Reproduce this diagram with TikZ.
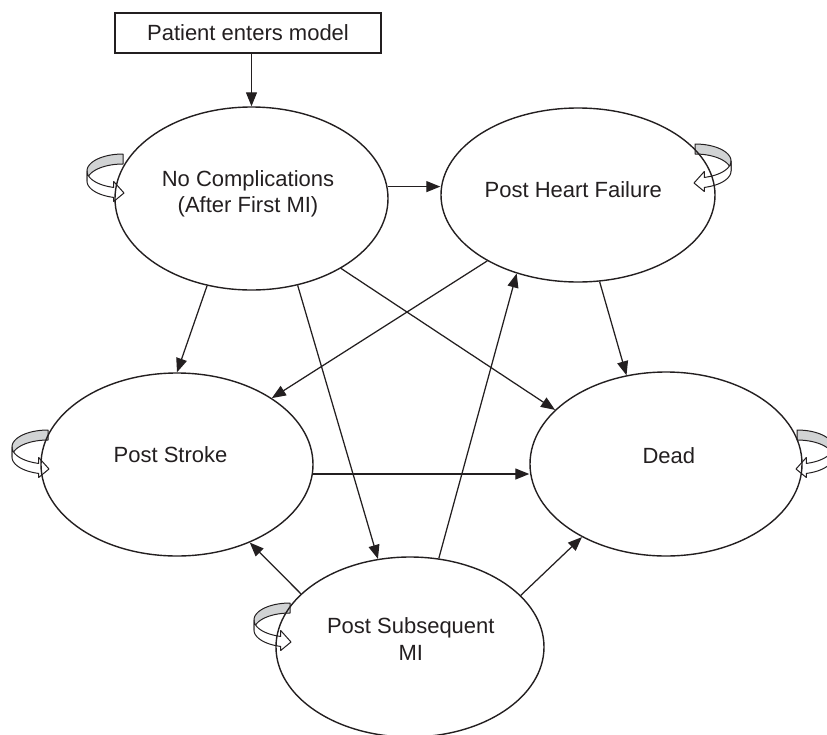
\documentclass[tikz,border=0pt]{standalone}
\usepackage{fontspec}
\setmainfont{Liberation Sans}
\usetikzlibrary{shapes.geometric,arrows.meta}
\definecolor{ink}{HTML}{231F20}
\definecolor{ribbon}{HTML}{D1D3D4}
\begin{document}
\begin{tikzpicture}[x=1pt,y=-1pt,
  statebox/.style={draw=ink, line width=1.4pt, ellipse, inner sep=0pt},
  statetext/.style={text=ink, font=\fontsize{22}{26.5}\selectfont, align=center, inner sep=0pt},
  flow/.style={draw=ink, line width=1.25pt, -{Triangle[length=14pt,width=11pt]}},
  entrybox/.style={draw=ink, line width=1.3pt, minimum width=266pt, minimum height=40pt, inner sep=0pt, text=ink, font=\fontsize{22}{26.5}\selectfont},
  loopshape/.pic={
    \draw[ink, line width=1pt, fill=ribbon, line join=round]
      plot[domain=-90:-180,samples=24] ({36*cos(\x)},{17*sin(\x)})
      -- plot[domain=-180:-90,samples=24] ({36*cos(\x)},{17*sin(\x)+10}) -- cycle;
    \draw[ink, line width=1pt, fill=white, line join=round]
      plot[domain=180:105,samples=20] ({36*cos(\x)},{17*sin(\x)})
      -- (-9.3,10.5) -- (1,22) -- (-9.3,30.5)
      -- plot[domain=105:180,samples=20] ({36*cos(\x)},{17*sin(\x)+10}) -- cycle;
  }]
\useasboundingbox (0,0) rectangle (827,734);

% self-loops
\pic (ncloop) at (123,171) {loopshape};
\pic[xscale=-1] (phfloop) at (695,161) {loopshape};
\pic (psloop) at (48,447) {loopshape};
\pic[xscale=-1] (deadloop) at (797,447) {loopshape};
\pic (psmiloop) at (290,620) {loopshape};

% entry box
\node[entrybox] (start) at (248,33) {Patient enters model};

% states
\node[statebox, minimum width=273pt, minimum height=183pt] (nc) at (251.5,198.5) {};
\node[statebox, minimum width=274pt, minimum height=174pt] (phf) at (578,195) {};
\node[statebox, minimum width=272pt, minimum height=183pt] (ps) at (177,464.5) {};
\node[statebox, minimum width=272pt, minimum height=184pt] (dead) at (666,464) {};
\node[statebox, minimum width=268pt, minimum height=180pt] (psmi) at (410,647) {};

\node[statetext] (nclabel) at (248,193.7) {No Complications\\(After First MI)};
\node[statetext] (phflabel) at (573.3,190) {Post Heart Failure};
\node[statetext] (pslabel) at (170.5,455) {Post Stroke};
\node[statetext] (deadlabel) at (668.8,455.3) {Dead};
\node[statetext] (psmilabel) at (410.8,639) {Post Subsequent\\MI};

% transitions
\draw[flow] (nc.north |- start.south) -- (nc.north);
\draw[flow] (nc.5) -- (nc.5 -| phf.west);
\draw[flow] (nc.-117) -- (ps.90);
\draw[flow] (nc.-62) -- (psmi.110);
\draw[flow] (nc.-38) -- (dead.154);
\draw[flow] (phf.-144) -- (ps.35);
\draw[flow] (phf.-76) -- (dead.114);
\draw[flow] (ps.-4) -- (ps.-4 -| dead.west);
\draw[flow] (psmi.154) -- (ps.-47);
\draw[flow] (psmi.72) -- (phf.-128);
\draw[flow] (psmi.25) -- (dead.-139);
\end{tikzpicture}
\end{document}
